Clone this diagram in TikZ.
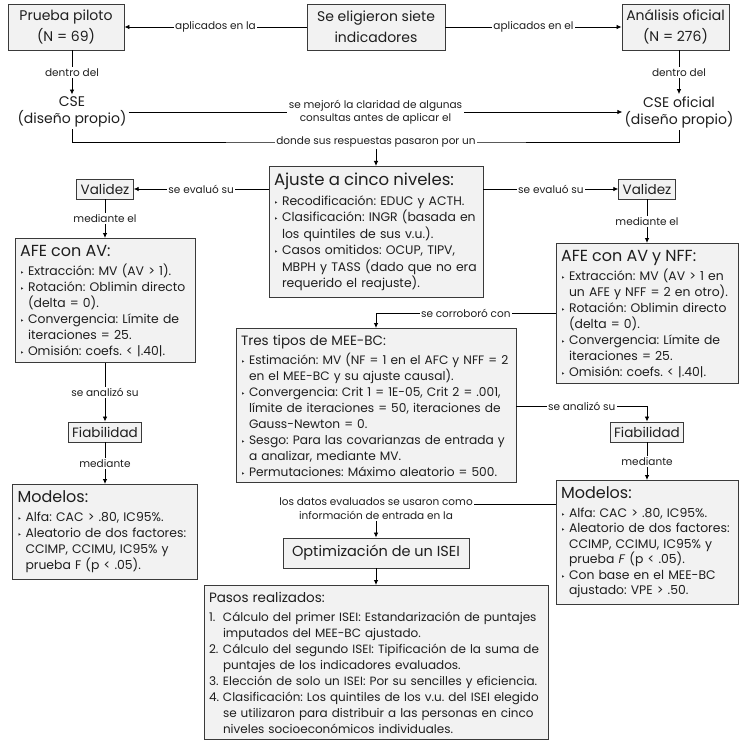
\documentclass[tikz,border=0pt]{standalone}
\usepackage{fontspec}
\setmainfont{Poppins}
\newfontfamily\dejavu{DejaVu Sans}
\usetikzlibrary{arrows.meta,calc}
\definecolor{boxfill}{HTML}{F2F2F2}
\definecolor{boxline}{HTML}{3A3A3A}
\definecolor{txt}{HTML}{1E1E1E}
\frenchspacing
\newcommand\bul{\makebox[8pt][l]{{\dejavu\fontsize{7}{7}\selectfont ‣}}}
\newcommand\hang{\hspace*{8pt}}
\newcommand\nm[1]{\makebox[14pt][l]{#1.}}
\newcommand\nhang{\hspace*{14pt}}
\newcommand\ttl[2]{{\fontsize{#1}{16}\selectfont #2}\\[3pt]}
\begin{document}
\begin{tikzpicture}[x=1pt,y=-1pt,
  every node/.style={text=txt},
  ln/.style={line width=0.8pt, black},
  arr/.style={ln, -{Latex[length=5pt,width=4.5pt]}},
  lbl/.style={fill=white, inner sep=1.5pt, font=\fontsize{10.5}{13.5}\selectfont, align=center},
  topbox/.style={draw=boxline, fill=boxfill, line width=0.9pt, align=center, font=\fontsize{14}{21}\selectfont, minimum height=46pt, inner sep=2pt},
  smallbox/.style={draw=boxline, fill=boxfill, line width=0.9pt, font=\fontsize{13.5}{15}\selectfont, inner xsep=4pt, inner ysep=2pt, minimum height=20pt},
  info/.style={draw=boxline, fill=boxfill, line width=0.9pt, align=left, anchor=north, inner xsep=5pt, inner ysep=6.5pt, font=\fontsize{12.4}{16}\selectfont},
  plain/.style={align=center, font=\fontsize{14}{17}\selectfont, inner sep=2pt}]
\fill[white] (0,0) rectangle (752,746);
\useasboundingbox (0,0) rectangle (752,746);

% top row
\node[topbox, minimum width=116pt] (prueba) at (66,27) {Prueba piloto\\(N = 69)};
\node[topbox, minimum width=138pt] (elig) at (376,27) {Se eligieron siete\\indicadores};
\node[topbox, minimum width=107pt] (anal) at (675.5,27) {Análisis oficial\\(N = 276)};
\node[plain] (cse) at (72,112) {CSE\\(diseño propio)};
\node[plain] (cseo) at (679,112) {CSE oficial\\(diseño propio)};

% middle
\node[info, text width=204pt, font=\fontsize{12.4}{16.5}\selectfont] (ajuste) at (376,166) {\ttl{16.5}{Ajuste a cinco niveles:}
\bul Recodificación: EDUC y ACTH.\\
\bul Clasificación: INGR (basada en\\
\hang los quintiles de sus v.u.).\\
\bul Casos omitidos: OCUP, TIPV,\\
\hang MBPH y TASS (dado que no era\\
\hang requerido el reajuste).};

\node[smallbox] (valL) at (105,189) {Validez};
\node[smallbox] (valR) at (647,189) {Validez};

\node[info, text width=170pt] (afeL) at (105,238) {\ttl{16}{AFE con AV:}
\bul Extracción: MV (AV > 1).\\
\bul Rotación: Oblimin directo\\
\hang (delta = 0).\\
\bul Convergencia: Límite de\\
\hang iteraciones = 25.\\
\bul Omisión: coefs. < |.40|.};

\node[info, text width=172pt] (afeR) at (647,243) {\ttl{16}{AFE con AV y NFF:}
\bul Extracción: MV (AV > 1 en\\
\hang un AFE y NFF = 2 en otro).\\
\bul Rotación: Oblimin directo\\
\hang (delta = 0).\\
\bul Convergencia: Límite de\\
\hang iteraciones = 25.\\
\bul Omisión: coefs. < |.40|.};

\node[info, text width=270pt, font=\fontsize{12.2}{16}\selectfont] (mee) at (376,328) {\ttl{13.5}{Tres tipos de MEE-BC:}
\bul Estimación: MV (NF = 1 en el AFC y NFF = 2\\
\hang en el MEE-BC y su ajuste causal).\\
\bul Convergencia: Crit 1 = 1E-05, Crit 2 = .001,\\
\hang límite de iteraciones = 50, iteraciones de\\
\hang Gauss-Newton = 0.\\
\bul Sesgo: Para las covarianzas de entrada y\\
\hang a analizar, mediante MV.\\
\bul Permutaciones: Máximo aleatorio = 500.};

\node[smallbox] (fiaL) at (105,432) {Fiabilidad};
\node[smallbox] (fiaR) at (647,432) {Fiabilidad};

\node[info, text width=175pt] (modL) at (105,484) {\ttl{16}{Modelos:}
\bul Alfa: CAC > .80, IC95\%.\\
\bul Aleatorio de dos factores:\\
\hang CCIMP, CCIMU, IC95\% y\\
\hang prueba F (p < .05).};

\node[info, text width=172pt, font=\fontsize{12.4}{15.5}\selectfont] (modR) at (647,480) {\ttl{16}{Modelos:}
\bul Alfa: CAC > .80, IC95\%.\\
\bul Aleatorio de dos factores:\\
\hang CCIMP, CCIMU, IC95\% y\\
\hang prueba \textit{F} (p < .05).\\
\bul Con base en el MEE-BC\\
\hang ajustado: VPE > .50.};

\node[smallbox, font=\fontsize{14.5}{16}\selectfont, minimum width=186pt, minimum height=30pt] (opt) at (376,553) {Optimización de un ISEI};

\node[info, text width=334pt, font=\fontsize{12}{16}\selectfont] (pasos) at (376,585) {\ttl{13.5}{Pasos realizados:}
\nm{1}Cálculo del primer ISEI: Estandarización de puntajes\\
\nhang imputados del MEE-BC ajustado.\\
\nm{2}Cálculo del segundo ISEI: Tipificación de la suma de\\
\nhang puntajes de los indicadores evaluados.\\
\nm{3}Elección de solo un ISEI: Por su sencilles y eficiencia.\\
\nm{4}Clasificación: Los quintiles de los v.u. del ISEI elegido\\
\nhang se utilizaron para distribuir a las personas en cinco\\
\nhang niveles socioeconómicos individuales.};

% connectors
\draw[arr] (elig.west) -- node[lbl]{aplicados en la} (prueba.east);
\draw[arr] (elig.east) -- node[lbl]{aplicados en el} (anal.west);
\draw[arr] (prueba.south -| cse.north) -- node[lbl]{dentro del} (cse.north);
\draw[arr] (anal.south -| cseo.north) -- node[lbl]{dentro del} (cseo.north);
\draw[arr] (cse.east) -- node[lbl]{se mejoró la claridad de algunas\\consultas antes de aplicar el} (cseo.west);
\coordinate (dj) at (376,142);
\draw[ln] (cse.south) |- (dj) -| (cseo.south);
\draw[arr] (dj) -- (ajuste.north);
\node[lbl] at (dj) {donde sus respuestas pasaron por un};

\draw[arr] (valL -| ajuste.west) -- node[lbl]{se evaluó su} (valL.east);
\draw[arr] (valR -| ajuste.east) -- node[lbl]{se evaluó su} (valR.west);
\draw[arr] (valL) -- node[lbl]{mediante el} (afeL.north);
\draw[arr] (valR) -- node[lbl]{mediante el} (afeR.north);

\coordinate (yc) at (0,313);
\draw[arr] (afeR.west |- yc) -- node[lbl]{se corroboró con} (mee.north |- yc) -- (mee.north);

\draw[arr] (afeL.south) -- node[lbl]{se analizó su} (fiaL.north);
\draw[arr] (fiaL) -- node[lbl]{mediante} (modL.north);
\coordinate (ya) at (0,406);
\draw[arr] (mee.east |- ya) -- node[lbl]{se analizó su} (fiaR |- ya) -- (fiaR.north);
\draw[arr] (fiaR) -- node[lbl]{mediante} (modR.north);

\coordinate (yd) at (0,504);
\draw[arr] (modR.west |- yd) -- (opt.north |- yd) -- (opt.north);
\node[lbl] at (376,508.5) {los datos evaluados se usaron como\\información de entrada en la};
\draw[arr] (opt) -- (pasos.north);
\end{tikzpicture}
\end{document}
